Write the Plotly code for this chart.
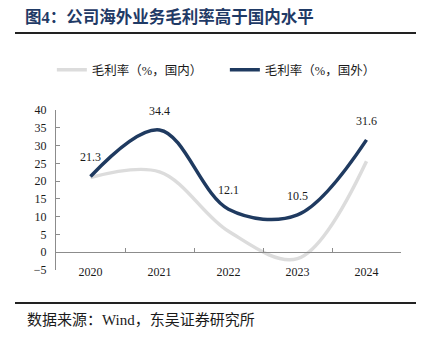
import plotly.graph_objects as go

# Gross margin by year, domestic vs overseas business (%)
years = ["2020", "2021", "2022", "2023", "2024"]
margin_domestic = [21.0, 22.6, 5.9, -1.8, 25.6]
margin_overseas = [21.3, 34.4, 12.1, 10.5, 31.6]
overseas_labels = ["21.3", "34.4", "12.1", "10.5", "31.6"]

y_ticks = [-5, 0, 5, 10, 15, 20, 25, 30, 35, 40]

name_domestic = "毛利率（%，国内）"
name_overseas = "毛利率（%，国外）"
title_text = "<b>图4：公司海外业务毛利率高于国内水平</b>"
source_text = "数据来源：Wind，东吴证券研究所"

SERIF = "Liberation Serif, Times New Roman, Noto Serif CJK SC, Noto Sans CJK SC, serif"
CJK = "Liberation Serif, Noto Sans CJK SC, sans-serif"
NAVY = "#1F3A60"
GREY = "#DCDCDC"
AXIS = "#8C8C8C"

fig = go.Figure()

fig.add_trace(go.Scatter(
    x=years, y=margin_domestic, name=name_domestic,
    mode="lines",
    line=dict(color=GREY, width=3.5, shape="spline", smoothing=1.0),
))

fig.add_trace(go.Scatter(
    x=years, y=margin_overseas, name=name_overseas,
    mode="lines",
    line=dict(color=NAVY, width=3.5, shape="spline", smoothing=1.0),
))

# value labels above the overseas series
fig.add_trace(go.Scatter(
    x=years, y=margin_overseas, showlegend=False, hoverinfo="skip",
    mode="markers+text",
    marker=dict(size=18, opacity=0, color=NAVY),
    text=overseas_labels, textposition="top center",
    textfont=dict(family=SERIF, size=12, color="#1a1a1a"),
    cliponaxis=False,
))

fig.update_layout(
    width=422, height=344,
    margin=dict(l=56, r=21, t=110, b=74),
    paper_bgcolor="white", plot_bgcolor="white",
    font=dict(family=SERIF, size=12, color="#1a1a1a"),
    title=dict(
        text=title_text, x=25 / 422, xanchor="left", xref="container",
        y=1 - 17 / 344, yanchor="middle", yref="container",
        font=dict(family=CJK, size=16.5, color="#1F3A66"),
    ),
    showlegend=True,
    legend=dict(
        orientation="h", x=-0.012, xanchor="left", y=1.25, yanchor="middle",
        font=dict(family=CJK, size=12.5, color="#1a1a1a"),
        bgcolor="rgba(0,0,0,0)", entrywidth=128, entrywidthmode="pixels",
        itemwidth=30,
    ),
    xaxis=dict(
        type="category", range=[-0.5, 4.5],
        showline=True, linecolor=AXIS, linewidth=1,
        anchor="free", position=5 / 45,
        ticks="inside", tickson="boundaries", ticklen=4, tickcolor=AXIS,
        ticklabelstandoff=8,
        showgrid=False, zeroline=False,
        tickfont=dict(family=SERIF, size=12, color="#1a1a1a"),
    ),
    yaxis=dict(
        range=[-5, 40], tickvals=y_ticks,
        showline=True, linecolor=AXIS, linewidth=1,
        ticks="inside", ticklen=4, tickcolor=AXIS,
        ticklabelstandoff=6,
        showgrid=False, zeroline=False,
        tickfont=dict(family=SERIF, size=12, color="#1a1a1a"),
    ),
    shapes=[
        dict(type="line", xref="paper", yref="paper",
             x0=(15 - 56) / 345, x1=(416 - 56) / 345,
             y0=(270 - 33) / 160, y1=(270 - 33) / 160,
             line=dict(color="#222222", width=2)),
        dict(type="line", xref="paper", yref="paper",
             x0=(15 - 56) / 345, x1=(416 - 56) / 345,
             y0=(270 - 303) / 160, y1=(270 - 303) / 160,
             line=dict(color="#222222", width=2)),
    ],
    annotations=[
        dict(text=source_text, xref="paper", yref="paper",
             x=(25 - 56) / 345, y=(270 - 320) / 160,
             xanchor="left", yanchor="middle", showarrow=False,
             font=dict(family=CJK, size=15, color="#1a1a1a")),
    ],
)

fig.write_html("out.html")
